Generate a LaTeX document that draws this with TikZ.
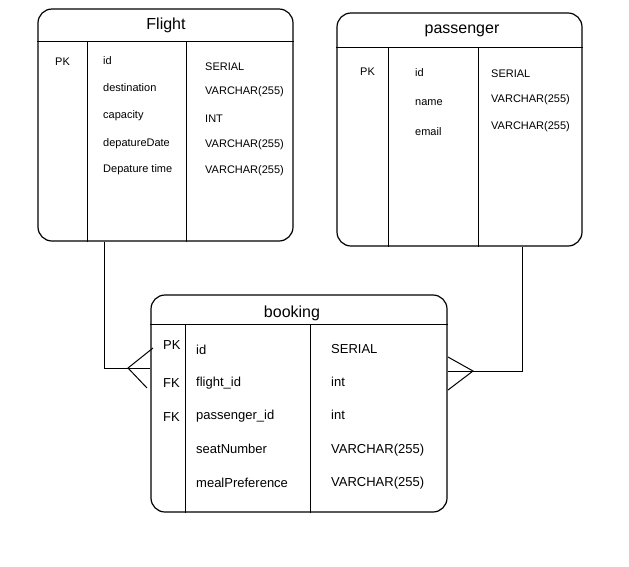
\documentclass[tikz,border=0pt]{standalone}
\usepackage{fontspec}
\setmainfont{Liberation Sans}

\tikzstyle{table} = [draw, line width=1.2pt, rounded corners=14pt, inner sep=0pt]
\tikzstyle{title} = [font=\fontsize{16}{19}\selectfont]
\tikzstyle{field} = [anchor=west, inner sep=0pt, font=\fontsize{11}{13}\selectfont]
\tikzstyle{bigfield} = [anchor=west, inner sep=0pt, font=\fontsize{13}{15}\selectfont]
\tikzstyle{rule} = [line width=1.2pt]
\tikzstyle{link} = [line width=1pt]

\begin{document}
\begin{tikzpicture}[x=1pt, y=-1pt]
	\useasboundingbox (0,0) rectangle (629,566);

	% Flight table
	\node[table, minimum width=255pt, minimum height=232pt] (flight) at (165.5,125) {};
	\node[title] (flight-title) at (166,25) {Flight};
	\draw[rule] ([yshift=-33pt]flight.north west) -- ([yshift=-33pt]flight.north east);
	\draw[rule] ([xshift=50pt,yshift=-33pt]flight.north west) -- ([xshift=50pt]flight.south west);
	\draw[rule] ([xshift=149pt,yshift=-33pt]flight.north west) -- ([xshift=149pt]flight.south west);
	\node[field] (flight-pk) at (55,62) {PK};
	\node[field] (flight-id) at (103,61) {id};
	\node[field] (flight-dest) at (103,88) {destination};
	\node[field] (flight-cap) at (103,116) {capacity};
	\node[field] (flight-date) at (103,144) {depatureDate};
	\node[field] (flight-time) at (103,170) {Depature time};
	\node[field] (flight-t1) at (205,67) {SERIAL};
	\node[field] (flight-t2) at (205,92) {VARCHAR(255)};
	\node[field] (flight-t3) at (205,119) {INT};
	\node[field] (flight-t4) at (205,145) {VARCHAR(255)};
	\node[field] (flight-t5) at (205,171) {VARCHAR(255)};

	% passenger table
	\node[table, minimum width=245pt, minimum height=233pt] (passenger) at (459.5,129.5) {};
	\node[title] (passenger-title) at (462,31) {passenger};
	\draw[rule] ([yshift=-35pt]passenger.north west) -- ([yshift=-35pt]passenger.north east);
	\draw[rule] ([xshift=52pt,yshift=-35pt]passenger.north west) -- ([xshift=52pt]passenger.south west);
	\draw[rule] ([xshift=142pt,yshift=-35pt]passenger.north west) -- ([xshift=142pt]passenger.south west);
	\node[field] (passenger-pk) at (360,72) {PK};
	\node[field] (passenger-id) at (415,73) {id};
	\node[field] (passenger-name) at (415,103) {name};
	\node[field] (passenger-email) at (415,132) {email};
	\node[field] (passenger-t1) at (491,74) {SERIAL};
	\node[field] (passenger-t2) at (491,100) {VARCHAR(255)};
	\node[field] (passenger-t3) at (491,127) {VARCHAR(255)};

	% booking table
	\node[table, minimum width=296pt, minimum height=217pt] (booking) at (299,403.5) {};
	\node[title] (booking-title) at (292,313) {booking};
	\draw[rule] ([yshift=-30pt]booking.north west) -- ([yshift=-30pt]booking.north east);
	\draw[rule] ([xshift=35pt,yshift=-30pt]booking.north west) -- ([xshift=35pt]booking.south west);
	\draw[rule] ([xshift=160pt,yshift=-30pt]booking.north west) -- ([xshift=160pt]booking.south west);
	\node[bigfield] (booking-pk) at (163,345) {PK};
	\node[bigfield] (booking-fk1) at (163,383) {FK};
	\node[bigfield] (booking-fk2) at (163,417) {FK};
	\node[bigfield] (booking-id) at (196,350) {id};
	\node[bigfield] (booking-flight) at (196,383) {flight\_id};
	\node[bigfield] (booking-pass) at (196,416) {passenger\_id};
	\node[bigfield] (booking-seat) at (196,449) {seatNumber};
	\node[bigfield] (booking-meal) at (196,483) {mealPreference};
	\node[bigfield] (booking-t1) at (331,349) {SERIAL};
	\node[bigfield] (booking-t2) at (331,382) {int};
	\node[bigfield] (booking-t3) at (331,415) {int};
	\node[bigfield] (booking-t4) at (331,450) {VARCHAR(255)};
	\node[bigfield] (booking-t5) at (331,483) {VARCHAR(255)};

	% relations, crow's foot at booking
	\coordinate (crowL) at (128,368);
	\coordinate (crowR) at (473,371);
	\draw[link] ([xshift=-61.5pt]flight.south) |- (booking.west |- crowL);
	\draw[link] ([shift={(25,-20)}]crowL) -- (crowL) -- ([shift={(19,20)}]crowL);
	\draw[link] ([xshift=62.5pt]passenger.south) |- (booking.east |- crowR);
	\draw[link] ([shift={(-25,-14)}]crowR) -- (crowR) -- ([shift={(-25,19)}]crowR);
\end{tikzpicture}
\end{document}
